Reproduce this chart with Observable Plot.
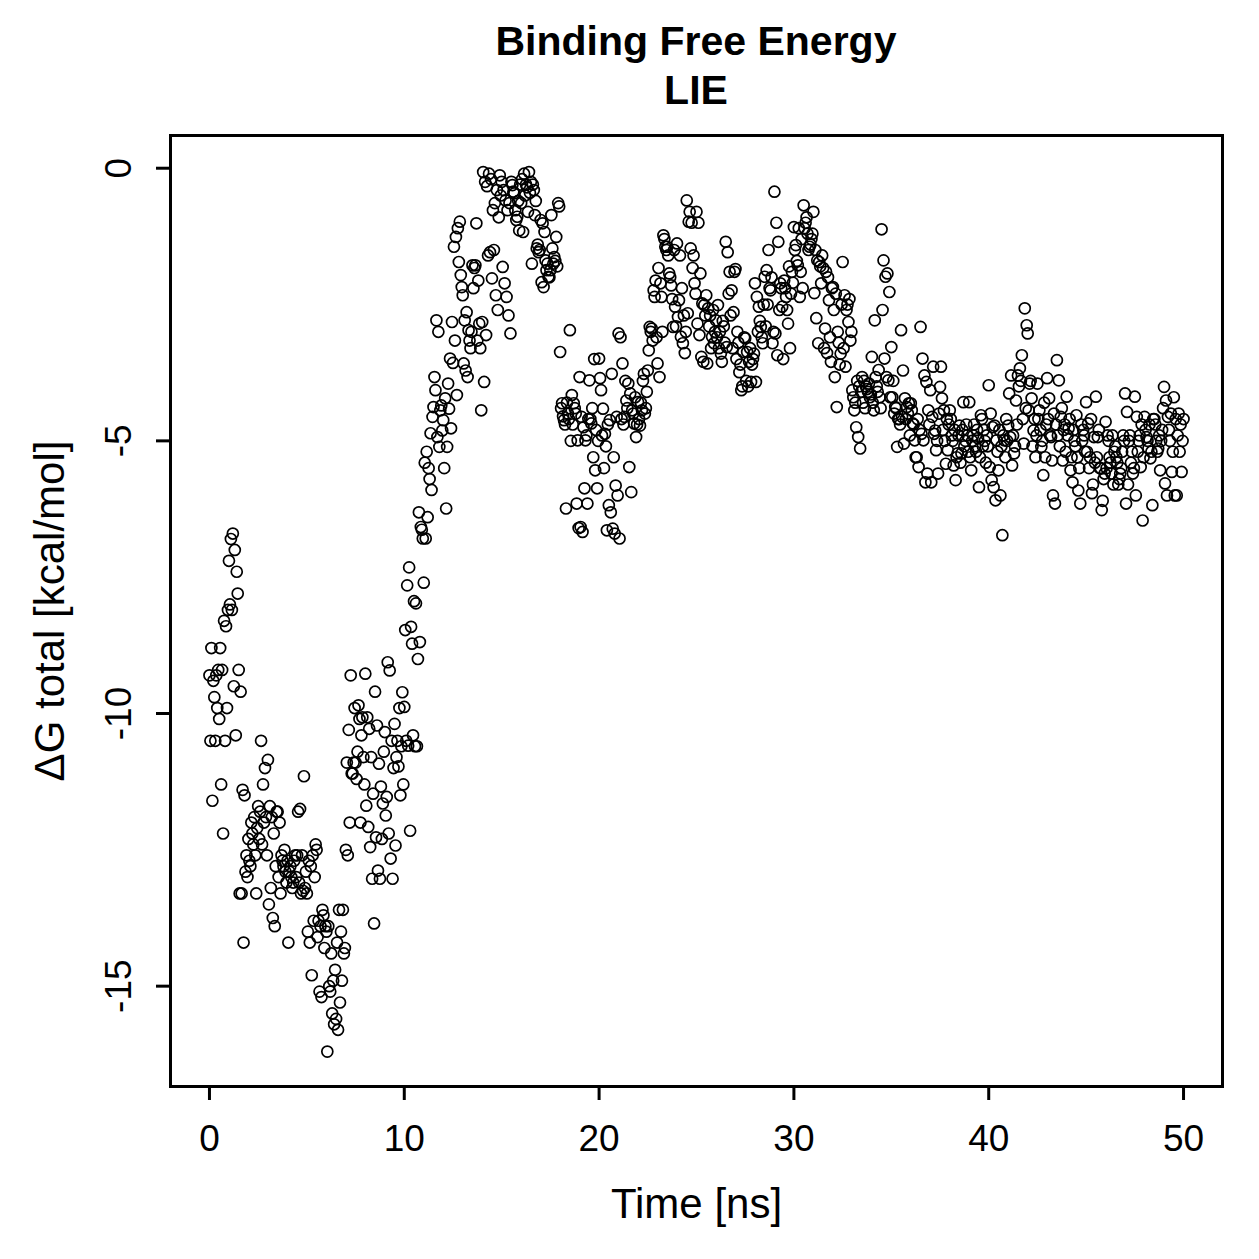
<!DOCTYPE html>
<html>
<head>
<meta charset="utf-8">
<script src="https://cdn.jsdelivr.net/npm/d3@7"></script>
<script src="https://cdn.jsdelivr.net/npm/@observablehq/plot@0.6"></script>
<style>
  html, body { margin: 0; padding: 0; background: white; }
  #title { width: 1259px; box-sizing: border-box; padding-left: 133px; height: 120px; padding-top: 17px;
           text-align: center; font-family: "Liberation Sans", Arial, sans-serif; font-weight: bold;
           font-size: 41px; line-height: 49px; color: black; }
</style>
</head>
<body>
<div id="title">Binding Free Energy<br>LIE</div>
<div id="chart"></div>
<script>
// sampling interval of the trajectory (ns)
const step = 0.05;

// ΔG total [kcal/mol], 0–10 ns
const dg0to10 = [
-9.3,-10.5,-8.8,-11.6,-9.4,-9.7,-10.5,-9.3,-9.9,-9.2,
-10.1,-8.8,-11.3,-9.2,-12.2,-8.3,-10.5,-8.4,-9.9,-8.1,
-7.2,-8.0,-6.8,-8.1,-6.7,-9.5,-7.0,-10.4,-7.4,-7.8,
-9.2,-13.3,-9.6,-13.3,-11.4,-14.2,-11.5,-12.9,-12.6,-13.0,
-12.3,-12.7,-12.8,-12.0,-12.2,-12.4,-11.9,-12.6,-13.3,-12.1,
-11.7,-12.3,-11.8,-10.5,-12.4,-11.3,-12.0,-11.0,-11.9,-12.6,
-10.85,-13.5,-11.7,-13.2,-11.9,-13.75,-12.2,-13.9,-12.8,-11.8,
-11.8,-13.0,-12.0,-13.3,-12.6,-12.7,-12.8,-12.5,-12.9,-13.1,
-12.7,-14.2,-12.9,-12.8,-13.0,-13.2,-13.1,-12.7,-12.6,-13.0,
-12.6,-11.8,-13.1,-11.75,-13.3,-12.6,-13.25,-11.15,-13.2,-12.9,
-13.3,-14.0,-12.7,-14.2,-12.8,-14.8,-12.6,-13.8,-13.0,-12.4,
-12.5,-14.1,-13.8,-15.1,-13.9,-15.2,-13.6,-13.7,-14.3,-13.9,
-14.0,-16.2,-13.9,-15.0,-15.1,-14.4,-15.5,-14.9,-15.7,-14.7,
-15.6,-14.2,-15.8,-13.6,-15.3,-14.0,-14.9,-13.6,-14.4,-14.3,
-12.5,-10.9,-12.6,-10.3,-12.0,-9.3,-11.1,-11.1,-10.9,-9.9,
-10.9,-11.2,-10.7,-9.85,-10.1,-12.0,-10.4,-10.07,-10.8,-11.3,
-9.27,-11.69,-10.07,-12.08,-10.28,-12.45,-10.8,-13.03,-11.47,-13.85,
-9.6,-12.27,-10.22,-12.88,-10.92,-13.03,-11.34,-12.3,-11.65,-10.7,
-10.34,-11.87,-11.53,-9.06,-12.2,-9.21,-12.66,-10.5,-13.03,-11.0,
-10.19,-12.42,-10.8,-10.5,-10.97,-9.9,-11.5,-10.6,-9.61,-11.3
];
// 10–20 ns
const dg10to20 = [
-9.88,-8.47,-10.5,-7.65,-10.59,-7.32,-12.15,-8.41,-8.72,-10.4,
-7.94,-10.6,-7.98,-10.6,-9.0,-6.31,-8.69,-6.58,-6.63,-6.79,
-7.6,-5.4,-6.79,-5.2,-6.4,-5.5,-5.7,-4.86,-5.9,-4.56,
-4.38,-3.83,-4.07,-2.79,-4.93,-3.0,-5.11,-4.44,-4.35,-4.81,
-4.62,-5.5,-4.22,-6.24,-5.11,-3.95,-4.41,-3.49,-4.77,-2.82,
-3.57,-1.44,-3.16,-1.26,-4.16,-1.1,-1.72,-0.98,-1.96,-2.18,
-2.33,-3.58,-2.79,-3.71,-2.64,-3.83,-2.97,-3.16,-3.3,-3.0,
-1.78,-2.2,-1.83,-1.78,-1.01,-3.16,-2.06,-2.85,-3.3,-4.44,
-2.82,-0.07,-3.92,-0.25,-3.06,-0.33,-1.6,-0.1,-1.54,-0.2,
-2.02,-0.77,-1.5,-0.64,-2.33,-0.4,-2.6,-0.9,-0.13,-0.5,
-0.25,-1.81,-0.4,-2.11,-0.59,-2.36,-0.77,-2.7,-0.64,-3.03,
-0.25,-0.31,-0.43,-0.46,-0.77,-0.95,-0.89,-0.6,-1.14,-0.3,
-0.64,-0.2,-1.17,-0.1,-0.5,-0.3,-0.35,-0.8,-0.07,-0.45,
-0.25,-1.75,-0.3,-0.4,-0.86,-0.6,-1.47,-1.4,-1.54,-1.5,
-0.95,-2.09,-1.01,-2.18,-1.17,-1.69,-1.87,-1.75,-1.99,-2.0,
-1.87,-0.86,-1.47,-1.75,-1.63,-1.7,-1.26,-1.8,-0.64,-0.7,
-3.37,-4.4,-4.31,-4.55,-4.62,-4.7,-6.24,-4.3,-4.5,-4.6,
-2.97,-5.0,-4.16,-4.7,-4.31,-4.4,-4.5,-6.15,-4.99,-6.6,
-3.83,-6.58,-4.56,-6.67,-4.75,-5.87,-4.99,-4.9,-6.15,-4.6,
-3.89,-4.6,-4.68,-4.4,-5.3,-3.5,-5.54,-4.8,-5.87,-5.0
];
// 20–30 ns
const dg20to30 = [
-3.49,-3.85,-4.07,-4.9,-4.41,-5.5,-4.87,-5.1,-6.64,-4.7,
-6.18,-4.62,-6.31,-3.77,-6.61,-5.3,-6.7,-5.82,-4.56,-6.0,
-3.03,-6.79,-3.1,-4.6,-3.58,-4.7,-4.56,-3.9,-4.26,-4.4,
-3.95,-5.48,-4.13,-5.94,-4.44,-4.5,-4.68,-4.2,-4.93,-4.7,
-4.29,-4.6,-4.72,-4.3,-4.44,-3.9,-3.77,-4.5,-4.4,-4.1,
-3.71,-3.34,-2.91,-3.0,-2.94,-3.16,-2.24,-2.36,-2.06,-3.1,
-3.58,-1.83,-3.83,-2.11,-2.36,-3.0,-1.23,-1.3,-1.44,-1.5,
-1.44,-1.6,-1.93,-2.0,-2.15,-2.4,-2.91,-1.5,-2.54,-2.9,
-1.38,-2.73,-2.42,-1.6,-3.09,-2.2,-3.21,-2.7,-3.39,-3.0,
-0.59,-2.66,-0.98,-0.8,-1.47,-1.0,-1.83,-1.6,-2.11,-2.3,
-0.8,-2.85,-1.0,-3.06,-1.93,-3.46,-2.48,-3.55,-2.51,-2.7,
-2.33,-3.58,-2.57,-2.9,-2.7,-3.3,-3.09,-2.6,-3.21,-3.0,
-2.79,-3.1,-2.51,-3.3,-3.0,-3.4,-3.55,-2.8,-2.9,-3.2,
-1.35,-3.28,-1.54,-2.3,-1.9,-2.7,-2.24,-3.3,-2.64,-1.9,
-1.85,-3.5,-3.0,-3.2,-3.74,-3.6,-4.07,-4.0,-3.37,-3.1,
-3.12,-3.9,-3.37,-4.0,-3.55,-3.3,-3.92,-3.6,-3.5,-3.4,
-2.11,-3.92,-2.36,-3.0,-2.54,-2.8,-2.91,-3.1,-3.21,-2.5,
-1.99,-2.9,-1.87,-2.5,-1.5,-2.2,-2.24,-2.0,-3.21,-3.0,
-0.43,-3.03,-1.0,-3.43,-1.35,-2.6,-2.11,-2.2,-2.54,-3.5,
-2.06,-2.2,-2.36,-2.6,-2.85,-1.8,-3.3,-2.3,-1.9,-2.1
];
// 30–40 ns
const dg30to40 = [
-1.08,-1.5,-1.41,-1.7,-1.78,-1.1,-2.36,-1.9,-1.3,-2.2,
-0.68,-1.1,-1.0,-0.9,-1.2,-1.5,-1.44,-1.4,-1.3,-1.2,
-0.8,-2.29,-1.5,-2.75,-1.69,-3.21,-1.72,-1.8,-2.11,-1.6,
-1.83,-3.3,-2.94,-1.9,-3.39,-2.0,-2.42,-3.1,-3.55,-2.2,
-2.18,-2.6,-3.83,-2.3,-4.38,-3.0,-3.2,-3.6,-3.4,-2.5,
-1.72,-3.3,-2.33,-3.64,-2.6,-2.5,-2.82,-2.4,-3.16,-3.0,
-4.07,-4.2,-4.44,-4.3,-4.75,-3.9,-4.93,-4.0,-5.14,-4.1,
-3.83,-4.3,-3.9,-4.4,-4.0,-4.05,-4.1,-3.95,-4.2,-4.15,
-3.46,-4.3,-4.44,-2.79,-3.83,-4.0,-4.1,-3.7,-4.2,-4.4,
-1.12,-2.6,-1.69,-3.49,-1.99,-3.83,-1.93,-3.89,-2.27,-4.2,
-3.28,-4.2,-3.9,-4.5,-4.38,-4.4,-5.11,-4.6,-4.6,-4.7,
-2.97,-4.56,-3.71,-5.05,-4.22,-4.6,-4.38,-4.5,-4.31,-4.9,
-4.31,-4.44,-4.68,-4.7,-4.99,-5.3,-5.3,-4.6,-5.48,-4.8,
-2.91,-4.87,-3.49,-4.99,-3.8,-5.76,-3.92,-5.6,-4.44,-4.7,
-4.07,-5.76,-4.56,-3.64,-4.87,-4.81,-5.17,-5.0,-5.6,-4.5,
-4.01,-3.64,-4.22,-4.8,-4.44,-5.0,-5.42,-4.6,-5.17,-4.7,
-4.44,-4.6,-4.9,-5.0,-5.45,-4.8,-5.72,-5.3,-5.23,-4.9,
-4.72,-5.4,-5.23,-4.8,-4.29,-5.1,-5.0,-4.7,-4.9,-5.2,
-4.29,-5.3,-5.54,-5.0,-4.9,-4.7,-5.1,-5.2,-4.8,-4.95,
-5.85,-5.3,-4.53,-4.6,-5.1,-4.8,-5.0,-5.4,-4.9,-5.1
];
// 40–50 ns
const dg40to50 = [
-3.98,-5.48,-4.5,-5.72,-4.75,-5.85,-4.72,-6.09,-4.99,-5.2,
-5.54,-4.8,-6.0,-5.1,-6.73,-4.9,-4.99,-5.3,-4.6,-5.0,
-4.72,-4.13,-4.93,-3.8,-5.45,-4.9,-5.23,-5.1,-4.26,-4.7,
-3.8,-4.0,-3.67,-3.9,-3.43,-4.6,-5.05,-2.57,-4.4,-2.88,
-3.03,-4.44,-3.95,-3.9,-4.22,-5.1,-4.81,-4.6,-5.3,-4.9,
-3.95,-4.6,-4.44,-4.8,-5.11,-5.0,-5.63,-4.3,-5.3,-4.7,
-3.85,-4.6,-4.22,-4.9,-4.93,-5.36,-6.0,-4.5,-6.15,-4.7,
-3.52,-4.9,-3.89,-5.1,-4.56,-4.4,-5.36,-4.8,-4.7,-5.2,
-4.19,-4.9,-4.77,-4.6,-5.54,-5.3,-5.76,-4.8,-5.0,-5.1,
-4.53,-5.3,-5.91,-5.5,-6.15,-4.7,-5.0,-4.8,-4.9,-5.2,
-4.29,-5.2,-4.68,-5.5,-5.3,-4.6,-5.96,-5.8,-4.93,-5.4,
-4.19,-5.3,-4.93,-4.8,-5.5,-5.5,-6.27,-6.1,-5.7,-5.6,
-4.65,-5.5,-4.9,-5.0,-5.3,-5.4,-5.6,-4.9,-5.8,-5.2,
-5.1,-5.3,-5.4,-5.8,-5.7,-5.6,-5.5,-5.2,-4.9,-5.0,
-4.13,-6.15,-4.47,-5.8,-5.0,-4.9,-5.4,-5.2,-5.6,-5.5,
-4.19,-6.0,-4.56,-5.2,-5.0,-4.9,-5.48,-4.7,-6.46,-5.3,
-4.56,-4.8,-4.93,-5.0,-5.14,-4.7,-5.32,-5.2,-6.18,-4.6,
-4.6,-4.7,-5.0,-5.2,-5.14,-4.9,-5.54,-5.0,-4.8,-4.4,
-4.01,-5.78,-4.26,-6.0,-4.56,-4.8,-5.0,-4.5,-5.57,-5.2,
-4.2,-6.0,-4.6,-6.0,-4.9,-4.5,-5.2,-4.7,-5.57,-5.0,
-4.6
];

const xTicks = [0, 10, 20, 30, 40, 50];
const yTicks = [0, -5, -10, -15];
const yTickLabels = ["0", "-5", "-10", "-15"];
const xTitle = "Time [ns]";
const yTitle = "ΔG total [kcal/mol]";

const dgAll = [].concat(dg0to10, dg10to20, dg20to30, dg30to40, dg40to50);
const data = dgAll.map((v, i) => ({t: +(i * step).toFixed(2), dg: v}));
const yLab = yTicks.map((v, i) => ({v, s: yTickLabels[i]}));

const font = "'Liberation Sans', Arial, Helvetica, sans-serif";

const chart = Plot.plot({
  width: 1259,
  height: 1139,
  marginLeft: 170,
  marginRight: 37,
  marginTop: 15,
  marginBottom: 173,
  x: {domain: [-2, 52]},
  y: {domain: [-16.84, 0.6]},
  style: {fontFamily: font, fontSize: "37px", color: "black", background: "white"},
  marks: [
    Plot.dot(data, {x: "t", y: "dg", r: 5.5, stroke: "black", strokeWidth: 1.7, fill: "none"}),
    Plot.frame({stroke: "black", strokeWidth: 3}),
    Plot.axisX({ticks: xTicks, tickSize: 14, tickPadding: 24, strokeWidth: 3, fontSize: 37,
                label: null, tickFormat: d => String(d)}),
    Plot.axisY({ticks: yTicks, tickSize: 14, strokeWidth: 3, label: null, tickFormat: () => ""}),
    Plot.text(yLab, {y: "v", text: "s", frameAnchor: "left", dx: -51, rotate: -90,
                     fontSize: 37, textAnchor: "middle", lineAnchor: "middle"}),
    Plot.text([xTitle], {frameAnchor: "bottom", dy: 118, fontSize: 42, textAnchor: "middle", lineAnchor: "middle"}),
    Plot.text([yTitle], {frameAnchor: "left", dx: -120, rotate: -90, fontSize: 42,
                         textAnchor: "middle", lineAnchor: "middle"})
  ]
});
document.getElementById("chart").appendChild(chart);
</script>
</body>
</html>
